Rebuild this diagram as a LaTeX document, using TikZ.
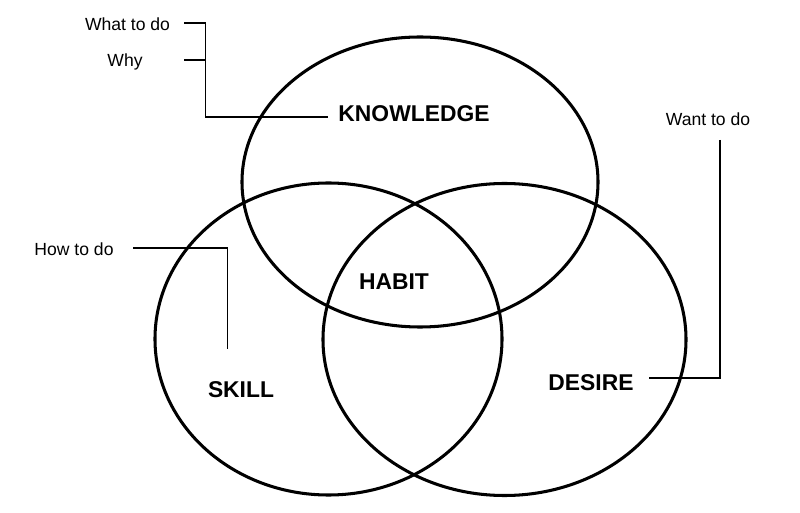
\documentclass[tikz,border=0pt]{standalone}
\usepackage{fontspec}
\setmainfont{Liberation Sans}
\usepackage{tikz}
\tikzstyle{ring} = [line width=2.6pt]
\tikzstyle{title} = [font=\fontsize{19.5}{23}\selectfont\bfseries, 
inner sep=0pt]
\tikzstyle{note} = [font=\fontsize{15}{18}\selectfont, 
inner sep=0pt]
\tikzstyle{coord} = [coordinate]
\tikzstyle{leader} = [line width=1.6pt]

\begin{document}
\begin{tikzpicture} [x=0.03cm, y=-0.03cm]
		\useasboundingbox (0,0) rectangle (800,513);
		% the three sets
		\draw [ring] (420,182) ellipse [x radius=5.34cm, y radius=4.35cm];
		\draw [ring] (328.5,339) ellipse [x radius=5.205cm, y radius=4.68cm];
		\draw [ring] (504.5,339.5) ellipse [x radius=5.445cm, y radius=4.68cm];
		\node (know) [title] at (414,114) {KNOWLEDGE};
		\node (habit) [title] at (394,282) {HABIT};
		\node (skill) [title] at (241,390) {SKILL};
		\node (desire) [title] at (591,383) {DESIRE};
		\node (what) [note] at (127.5,24) {What to do};
		\node (why) [note] at (125,62) {Why};
		\node (how) [note] at (74,249.5) {How to do};
		\node (want) [note] at (708,119) {Want to do};
		% leader lines
		\node (whattip) [coord] at (184,23) {};
		\node (whytip) [coord] at (184,60) {};
		\node (kbend) [coord] at (205.5,117) {};
		\node (knowtip) [coord] at (328,117) {};
		\draw [leader] (whattip) -| (kbend) -- (knowtip);
		\draw [leader, line width=2.4pt] (whytip) -- (whytip -| kbend);
		\node (howtip) [coord] at (133,248) {};
		\node (skilltip) [coord] at (227.5,349) {};
		\draw [leader] (howtip) -| (skilltip);
		\node (wanttip) [coord] at (720,140) {};
		\node (desiretip) [coord] at (649,378) {};
		\draw [leader] (wanttip) |- (desiretip);
	\end{tikzpicture}
\end{document}
